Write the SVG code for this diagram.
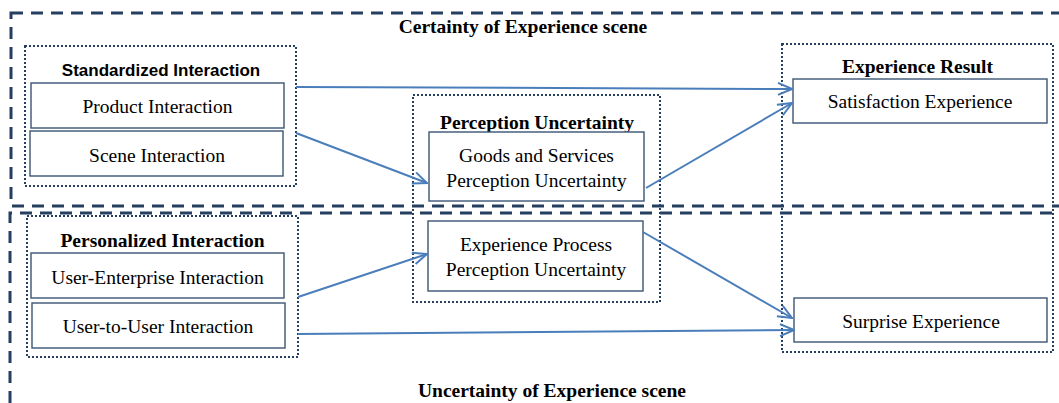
<svg xmlns="http://www.w3.org/2000/svg" width="1059" height="403" viewBox="0 0 1059 403">
  <defs>
    <marker id="open-arrow" viewBox="0 0 16 14" refX="15" refY="7" markerWidth="16" markerHeight="14" markerUnits="userSpaceOnUse" orient="auto">
      <path d="M1,1 L15,7 L1,13" fill="none" stroke="#4a7ebb" stroke-width="2"/>
    </marker>
  </defs>
  <style>
    .scene { fill: none; stroke: #243f60; stroke-width: 3; stroke-dasharray: 12 8; }
    .group { fill: none; stroke: #243f60; stroke-width: 2; stroke-dasharray: 2 2; }
    .box { fill: #ffffff; stroke: #3b5574; stroke-width: 1.4; }
    .serif { font-family: "Liberation Serif", "Times New Roman", serif; font-size: 19.5px; fill: #000; text-anchor: middle; }
    .bold { font-weight: bold; }
    .sans { font-family: "Liberation Sans", Arial, sans-serif; font-weight: bold; font-size: 17px; fill: #000; text-anchor: middle; }
    .link { fill: none; stroke: #4a7ebb; stroke-width: 2; marker-end: url(#open-arrow); }
  </style>
  <rect width="1059" height="403" fill="#ffffff"/>

  <!-- scene frames -->
  <g id="certainty-scene">
    <rect class="scene" x="11" y="13" width="1080" height="193"/>
    <text class="serif bold" x="523" y="33">Certainty of Experience scene</text>
  </g>
  <g id="uncertainty-scene">
    <rect class="scene" x="10" y="213" width="1080" height="220" stroke-dashoffset="-10"/>
    <text class="serif bold" x="552" y="397">Uncertainty of Experience scene</text>
  </g>

  <!-- standardized interaction -->
  <g id="standardized-interaction">
    <rect class="group" x="25" y="46" width="271" height="140"/>
    <text class="sans" x="161" y="76">Standardized Interaction</text>
    <rect class="box" x="31" y="83" width="253" height="45"/>
    <text class="serif" x="157.5" y="113">Product Interaction</text>
    <rect class="box" x="30" y="131" width="253" height="45"/>
    <text class="serif" x="157" y="162">Scene Interaction</text>
  </g>

  <!-- personalized interaction -->
  <g id="personalized-interaction">
    <rect class="group" x="27" y="216" width="271" height="141"/>
    <text class="serif bold" x="162.5" y="247">Personalized Interaction</text>
    <rect class="box" x="31" y="253" width="253" height="45"/>
    <text class="serif" x="157.5" y="284">User-Enterprise Interaction</text>
    <rect class="box" x="32" y="303" width="253" height="45"/>
    <text class="serif" x="158" y="333">User-to-User Interaction</text>
  </g>

  <!-- perception uncertainty -->
  <g id="perception-uncertainty">
    <rect class="group" x="413" y="95" width="247" height="207"/>
    <text class="serif bold" x="537" y="129">Perception Uncertainty</text>
    <rect class="box" x="429" y="132" width="215" height="69"/>
    <text class="serif" x="536.5" y="162">Goods and Services</text>
    <text class="serif" x="536.5" y="187">Perception Uncertainty</text>
    <rect class="box" x="428" y="221" width="215" height="70"/>
    <text class="serif" x="536" y="251">Experience Process</text>
    <text class="serif" x="536" y="276">Perception Uncertainty</text>
  </g>

  <!-- experience result -->
  <g id="experience-result">
    <rect class="group" x="782" y="44" width="271" height="308"/>
    <text class="serif bold" x="917.5" y="73">Experience Result</text>
    <rect class="box" x="793" y="79" width="254" height="44"/>
    <text class="serif" x="920" y="108">Satisfaction Experience</text>
    <rect class="box" x="794" y="298" width="253" height="44"/>
    <text class="serif" x="921" y="328">Surprise Experience</text>
  </g>

  <!-- connectors -->
  <g id="connectors">
    <line class="link" x1="296" y1="87" x2="792" y2="89"/>
    <line class="link" x1="296" y1="133" x2="427" y2="183"/>
    <line class="link" x1="646" y1="188" x2="792" y2="103"/>
    <line class="link" x1="298" y1="297" x2="427" y2="254"/>
    <line class="link" x1="643" y1="232" x2="792" y2="318"/>
    <line class="link" x1="298" y1="334" x2="794" y2="330"/>
  </g>
</svg>
